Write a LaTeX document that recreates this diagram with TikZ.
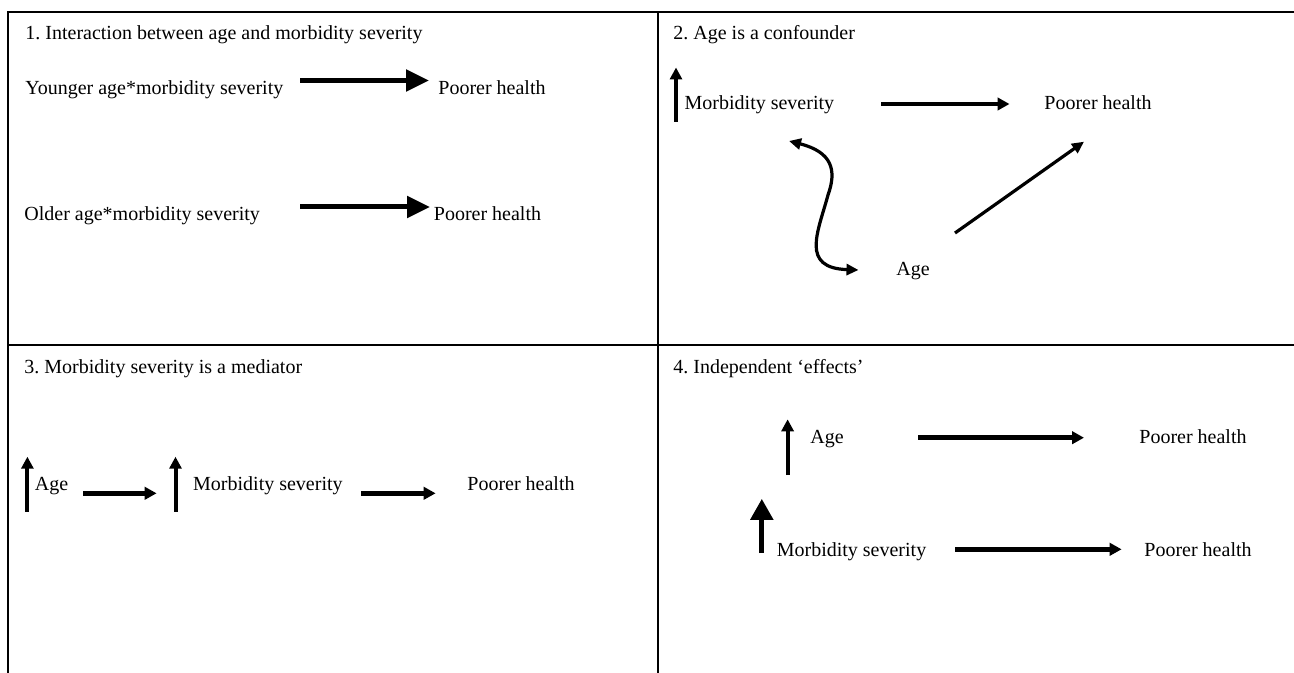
\documentclass[tikz,border=0pt]{standalone}
\usepackage{fontspec}
\setmainfont{Liberation Serif}
\usetikzlibrary{arrows.meta}
\frenchspacing
\begin{document}
\begin{tikzpicture}[x=0.5pt,y=-0.5pt,
  lbl/.style={anchor=base west, inner sep=0pt, font=\fontsize{10}{12}\selectfont\frenchspacing},
  frameline/.style={line width=1pt, black},
  bigarrow/.style={line width=2.5pt, -{Triangle[length=11.5pt,width=10.5pt]}},
  medarrow/.style={line width=2.3pt, -{Triangle[length=6pt,width=6.2pt]}},
  uparrow/.style={line width=2pt, -{Triangle[length=6pt,width=6pt]}},
  thickup/.style={line width=2.5pt, -{Triangle[length=10.5pt,width=11pt]}},
  thinarrow/.style={line width=1.6pt, -{Triangle[length=6pt,width=5.5pt]}},
  dblarrow/.style={line width=1.6pt, {Triangle[length=6pt,width=5.5pt]}-{Triangle[length=6pt,width=5.5pt]}},
  ]
\useasboundingbox (0,0) rectangle (1294,673);
\fill[white] (0,0) rectangle (1294,673);
\begin{scope}
\clip (0,0) rectangle (1294,673);
% frame
\coordinate (tl) at (8.4,11.7);
\coordinate (tr) at (1300,11.7);
\coordinate (bl) at (8.4,680);
\coordinate (mt) at (658,11.7);
\coordinate (mb) at (658,680);
\coordinate (ml) at (8.4,345);
\coordinate (mr) at (1300,345);
\draw[frameline] (tr) -- (tl) -- (bl);
\draw[frameline] (mt) -- (mb);
\draw[frameline] (ml) -- (mr);
\end{scope}

% ---------- Panel 1
\node[lbl] (t1) at (25,39.3) {1. Interaction between age and morbidity severity};
\node[lbl] (y1) at (25,95) {Younger age*morbidity severity};
\node[lbl] (yp) at (438,95) {Poorer health};
\node[lbl] (o1) at (24,220.7) {Older age*morbidity severity};
\node[lbl] (op) at (433.5,220.7) {Poorer health};
\coordinate (ya1) at (300,80.5);
\coordinate (ya2) at (429,80.5);
\coordinate (oa1) at (300,207);
\coordinate (oa2) at (430,207);
\draw[bigarrow] (ya1) -- (ya2);
\draw[bigarrow] (oa1) -- (oa2);

% ---------- Panel 2
\node[lbl] (t2) at (673,39.3) {2. Age is a confounder};
\node[lbl] (m2) at (684.3,110) {Morbidity severity};
\node[lbl] (p2) at (1044,110) {Poorer health};
\node[lbl] (a2) at (896,276) {Age};
\coordinate (u2a) at (676,121.7);
\coordinate (u2b) at (676,67.5);
\draw[uparrow] (u2a) -- (u2b);
\coordinate (h2a) at (881,104);
\coordinate (h2b) at (1009.5,104);
\draw[medarrow] (h2a) -- (h2b);
\coordinate (w1) at (789,141);
\coordinate (wm) at (828,195);
\coordinate (w2) at (858.5,270);
\draw[dblarrow] (w1) .. controls (832,152) and (837,170) .. (wm)
   .. controls (818,232) and (800,268) .. (w2);
\coordinate (d1) at (955,233);
\coordinate (d2) at (1084,141.7);
\draw[thinarrow] (d1) -- (d2);

% ---------- Panel 3
\node[lbl] (t3) at (24,373) {3. Morbidity severity is a mediator};
\node[lbl] (a3) at (34.5,490.7) {Age};
\node[lbl] (m3) at (192.8,490.7) {Morbidity severity};
\node[lbl] (p3) at (467,490.7) {Poorer health};
\coordinate (u3a) at (27.4,511.7);
\coordinate (u3b) at (27.4,456.7);
\draw[uparrow] (u3a) -- (u3b);
\coordinate (u3c) at (175.5,511.7);
\coordinate (u3d) at (175.5,456.7);
\draw[uparrow] (u3c) -- (u3d);
\coordinate (h3a) at (83,493.3);
\coordinate (h3b) at (156.6,493.3);
\draw[medarrow] (h3a) -- (h3b);
\coordinate (h3c) at (361,493.3);
\coordinate (h3d) at (435.6,493.3);
\draw[medarrow] (h3c) -- (h3d);

% ---------- Panel 4
\node[lbl] (t4) at (673,373.3) {4. Independent ‘effects’};
\node[lbl] (a4) at (810,443.5) {Age};
\node[lbl] (p4a) at (1139,443.5) {Poorer health};
\node[lbl] (m4) at (776.4,556.7) {Morbidity severity};
\node[lbl] (p4b) at (1144,556.7) {Poorer health};
\coordinate (u4a) at (787.6,475);
\coordinate (u4b) at (787.6,419.3);
\draw[uparrow] (u4a) -- (u4b);
\coordinate (u4c) at (761.8,553);
\coordinate (u4d) at (761.8,498.8);
\draw[thickup] (u4c) -- (u4d);
\coordinate (h4a) at (918,437.7);
\coordinate (h4b) at (1084,437.7);
\draw[medarrow] (h4a) -- (h4b);
\coordinate (h4c) at (955.3,549.3);
\coordinate (h4d) at (1121.6,549.3);
\draw[medarrow] (h4c) -- (h4d);
\end{tikzpicture}
\end{document}
